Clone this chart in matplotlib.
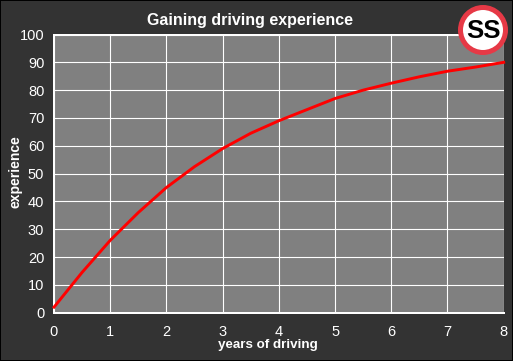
#!/usr/bin/env python
# -*- encoding: utf-8 -*-
"""Gaining driving experience curve."""
import matplotlib
matplotlib.use("Agg")
import matplotlib.pyplot as plt
from matplotlib.patches import Circle

W, H = 513, 361

years = [0, 0.5, 1, 1.5, 2, 2.5, 3, 3.5, 4, 4.5, 5, 5.5, 6, 6.5, 7, 7.5, 8]
experience = [2, 14.5, 26, 36, 45, 52.5, 59, 64.5, 69, 73, 77, 80, 82.5, 84.8, 86.8, 88.3, 90]
x_ticks = [0, 1, 2, 3, 4, 5, 6, 7, 8]
y_ticks = [0, 10, 20, 30, 40, 50, 60, 70, 80, 90, 100]

plt.rcParams['font.family'] = ['Liberation Sans', 'DejaVu Sans']

fig = plt.figure(figsize=(W / 100., H / 100.), dpi=100, facecolor='#333333')
ax = fig.add_axes([54. / W, 1 - 312.7 / H, 449.7 / W, 278.2 / H], facecolor='#808080')

ax.set_xlim(0, 8)
ax.set_ylim(0, 100)
ax.set_xticks(x_ticks)
ax.set_yticks(y_ticks)
ax.grid(True, color='white', linewidth=0.8)
ax.set_axisbelow(True)
ax.tick_params(length=0, colors='white', labelsize=10.5)
ax.tick_params(axis='x', pad=9)
ax.tick_params(axis='y', pad=7)
for side in ('left', 'bottom', 'top'):
    ax.spines[side].set_color('white')
    ax.spines[side].set_linewidth(1.44)
ax.spines['right'].set_visible(False)

ax.plot(years, experience, color='#ff0000', linewidth=2.1, clip_on=False, zorder=3)

fig.text(250 / W, 1 - 20 / H, 'Gaining driving experience', color='white',
         fontsize=11.5, fontweight='bold', ha='center', va='center')
fig.text(268 / W, 1 - 345 / H, 'years of driving', color='white',
         fontsize=9.6, fontweight='bold', ha='center', va='center')
fig.text(16 / W, 1 - 171.5 / H, 'experience', color='white', fontsize=10,
         fontweight='bold', rotation=90, ha='center', va='center')

# speed-limit style badge, drawn in pixel coordinates of the figure
overlay = fig.add_axes([0, 0, 1, 1], facecolor='none')
overlay.set_xlim(0, W)
overlay.set_ylim(H, 0)
overlay.axis('off')
overlay.add_patch(Circle((483, 30), 22.5, facecolor='white', edgecolor='#e63946', linewidth=3.6))
overlay.text(483, 30.5, 'SS', color='black', fontsize=18.5, fontweight='bold', ha='center', va='center')

# dark outer frame
fig.add_artist(plt.Rectangle((0, 0), 1, 1, transform=fig.transFigure, fill=False,
                             edgecolor='black', linewidth=1.44))

fig.savefig('out.png', dpi=100, facecolor=fig.get_facecolor())
